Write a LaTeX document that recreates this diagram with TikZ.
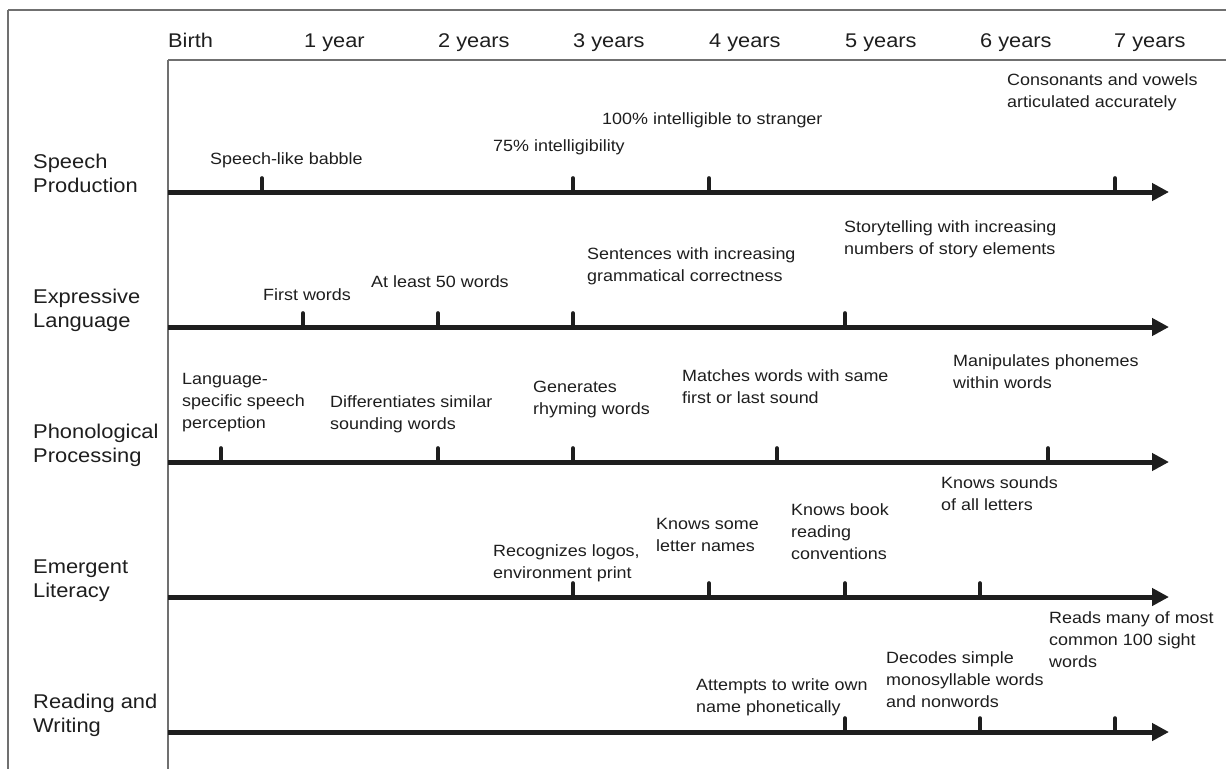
\documentclass[tikz,border=0pt]{standalone}
\usepackage{fontspec}
\setmainfont{Liberation Sans}[FakeStretch=1.1]
\usetikzlibrary{arrows.meta}
\definecolor{frame}{HTML}{707070}
\definecolor{ink}{HTML}{1E1E1E}
\begin{document}
\begin{tikzpicture}[x=1pt,y=-1pt,
  framel/.style={draw=frame,line width=1.6pt},
  axisl/.style={draw=ink,line width=5pt,-{Triangle[length=17pt,width=17pt]}},
  tickl/.style={draw=ink,line width=3.6pt,line cap=round},
  item/.style={anchor=base west,inner sep=0pt,align=left,text=ink,font=\fontsize{16.3}{22}\selectfont},
  head/.style={anchor=base west,inner sep=0pt,text=ink,font=\fontsize{19.8}{24}\selectfont},
  rowl/.style={anchor=base west,inner sep=0pt,align=left,text=ink,font=\fontsize{19.9}{24.5}\selectfont}]
\useasboundingbox (0,0) rectangle (1226,769);
\fill[white] (0,0) rectangle (1226,769);
% frame
\draw[framel] (8,10) -- (1226,10);
\draw[framel] (8,10) -- (8,769);
\draw[framel] (168,60) -- (1226,60);
\draw[framel] (168,60) -- (168,769);
% header
\node[head] (hb) at (168,47) {Birth};
\node[head] (h1) at (304,47) {1 year};
\node[head] (h2) at (438,47) {2 years};
\node[head] (h3) at (573,47) {3 years};
\node[head] (h4) at (709,47) {4 years};
\node[head] (h5) at (845,47) {5 years};
\node[head] (h6) at (980,47) {6 years};
\node[head] (h7) at (1114,47) {7 years};
% row labels
\node[rowl] (r1) at (33,168) {Speech};
\node[rowl] (r1b) at (33,192) {Production};
\node[rowl] (r2) at (33,303) {Expressive};
\node[rowl] (r2b) at (33,327) {Language};
\node[rowl] (r3) at (33,438) {Phonological};
\node[rowl] (r3b) at (33,462) {Processing};
\node[rowl] (r4) at (33,573) {Emergent};
\node[rowl] (r4b) at (33,597) {Literacy};
\node[rowl] (r5) at (33,708) {Reading and};
\node[rowl] (r5b) at (33,732) {Writing};
% axes
\foreach \n/\y in {1/192,2/327,3/462,4/597,5/732}{
  \coordinate (s\n) at (168,\y);
  \coordinate (e\n) at (1169,\y);
  \draw[axisl] (s\n) -- (e\n);
}
% ticks
\foreach \x/\y in {262/192,573/192,709/192,1115/192,
                   303/327,438/327,573/327,845/327,
                   221/462,438/462,573/462,777/462,1048/462,
                   573/597,709/597,845/597,980/597,
                   845/732,980/732,1115/732}{
  \draw[tickl] (\x,\y) -- (\x,\y-14);
}
% Speech production (anchor = baseline of last line)
\node[item] (a1) at (210,164) {Speech-like babble};
\node[item] (a2) at (493,151) {75\% intelligibility};
\node[item] (a3) at (602,124) {100\% intelligible to stranger};
\node[item] (a4) at (1007,107) {Consonants and vowels\\articulated accurately};
% Expressive language
\node[item] (b1) at (263,300) {First words};
\node[item] (b2) at (371,287) {At least 50 words};
\node[item] (b3) at (587,281) {Sentences with increasing\\grammatical correctness};
\node[item] (b4) at (844,254) {Storytelling with increasing\\numbers of story elements};
% Phonological processing
\node[item] (c1) at (182,428) {Language-\\specific speech\\perception};
\node[item] (c2) at (330,429) {Differentiates similar\\sounding words};
\node[item] (c3) at (533,414) {Generates\\rhyming words};
\node[item] (c4) at (682,403) {Matches words with same\\first or last sound};
\node[item] (c5) at (953,388) {Manipulates phonemes\\within words};
% Emergent literacy
\node[item] (d1) at (493,578) {Recognizes logos,\\environment print};
\node[item] (d2) at (656,551) {Knows some\\letter names};
\node[item] (d3) at (791,559) {Knows book\\reading\\conventions};
\node[item] (d4) at (941,510) {Knows sounds\\of all letters};
% Reading and writing
\node[item] (f1) at (696,712) {Attempts to write own\\name phonetically};
\node[item] (f2) at (886,707) {Decodes simple\\monosyllable words\\and nonwords};
\node[item] (f3) at (1049,667) {Reads many of most\\common 100 sight\\words};
\end{tikzpicture}
\end{document}
